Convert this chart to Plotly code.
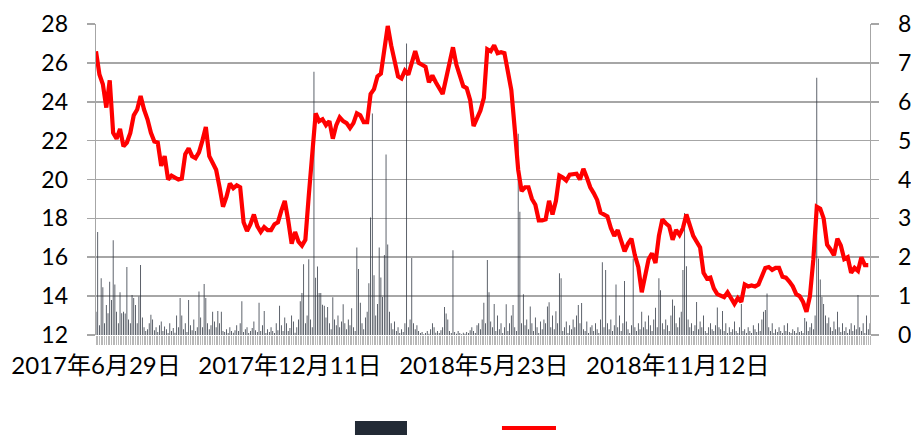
import plotly.graph_objects as go

# Daily volume (right axis, 0-8), one value per trading day
volume = [
    0.6, 2.65, 0.25, 1.46, 1.23, 0.3, 0.77, 0.56, 1.37, 0.9, 2.44, 1.3, 0.6, 0.3, 1.1, 0.56, 0.6, 0.55, 1.75, 0.4,
    0.3, 1.03, 0.95, 0.77, 0.3, 0.99, 1.8, 0.45, 0.2, 0.1, 0.15, 0.3, 0.52, 0.4, 0.12, 0.2, 0.08, 0.25, 0.35, 0.1,
    0.22, 0.15, 0.05, 0.3, 0.1, 0.18, 0.06, 0.5, 0.2, 0.95, 0.5, 0.15, 0.3, 0.08, 0.9, 0.25, 0.12, 0.4, 0.1, 0.2,
    1.12, 0.45, 0.2, 1.31, 0.95, 0.3, 0.15, 0.25, 0.6, 0.35, 0.2, 0.62, 0.3, 0.6, 0.1, 0.08, 0.15, 0.05, 0.2, 0.1,
    0.06, 0.12, 0.25, 0.1, 0.3, 0.87, 0.08, 0.15, 0.2, 0.05, 0.1, 0.18, 0.35, 0.12, 0.08, 0.83, 0.1, 0.25, 0.62, 0.05,
    0.15, 0.08, 0.2, 0.1, 0.05, 0.3, 0.12, 0.75, 0.25, 0.1, 0.45, 0.3, 0.1, 0.18, 0.5, 0.35, 0.06, 0.2, 0.4, 0.87,
    1.08, 1.82, 0.3, 0.5, 1.95, 0.4, 0.2, 6.77, 1.47, 1.76, 1.08, 1.08, 0.78, 0.75, 0.45, 0.72, 0.3, 0.15, 0.97, 0.4,
    0.25, 0.5, 0.2, 0.35, 0.79, 0.3, 0.15, 0.4, 0.25, 0.69, 0.2, 0.1, 2.25, 1.7, 0.83, 0.3, 0.15, 0.45, 0.6, 1.33,
    3.02, 5.7, 1.54, 0.5, 0.8, 2.25, 1.48, 0.98, 2.06, 4.64, 2.33, 0.6, 0.3, 0.15, 0.35, 0.1, 0.2, 0.05, 0.15, 0.08,
    0.3, 7.5, 0.2, 0.4, 1.98, 0.3, 0.15, 0.25, 0.1, 0.05, 0.08, 0.02, 0.05, 0.1, 0.03, 0.15, 0.3, 0.2, 0.06, 0.1,
    0.05, 0.12, 0.2, 0.72, 0.55, 0.4, 0.1, 0.05, 2.18, 0.08, 0.03, 0.1, 0.05, 0.02, 0.06, 0.03, 0.08, 0.05, 0.12, 0.2,
    0.1, 0.05, 0.25, 0.3, 0.15, 0.4, 0.83, 0.3, 1.93, 1.1, 0.35, 0.2, 0.8, 0.1, 0.5, 0.15, 0.3, 0.05, 0.2, 0.79,
    0.1, 0.3, 0.5, 0.77, 0.2, 0.1, 5.18, 3.17, 0.3, 1.05, 0.25, 0.4, 0.15, 0.73, 0.3, 0.1, 0.45, 0.2, 0.05, 0.35,
    0.15, 0.4, 0.3, 0.73, 0.84, 0.2, 0.5, 0.15, 0.61, 0.3, 1.59, 1.46, 0.1, 0.2, 0.35, 0.05, 0.25, 0.15, 0.4, 0.2,
    0.5, 0.77, 0.3, 0.82, 0.15, 0.1, 0.35, 0.05, 0.2, 0.25, 0.1, 0.3, 0.15, 0.05, 0.4, 1.87, 0.2, 1.67, 0.3, 0.15,
    0.4, 0.1, 0.25, 1.3, 0.2, 0.5, 0.1, 0.3, 1.39, 0.35, 0.15, 0.05, 0.25, 1.97, 0.2, 0.1, 0.3, 0.15, 0.6, 0.2,
    0.35, 0.15, 0.5, 0.25, 0.1, 0.4, 0.7, 0.2, 1.46, 1.15, 0.3, 0.15, 0.4, 0.25, 0.1, 0.5, 0.91, 0.75, 0.3, 0.2,
    0.45, 0.6, 1.67, 3.14, 1.77, 0.4, 0.2, 0.3, 0.1, 0.25, 0.85, 0.15, 0.35, 0.2, 0.5, 0.1, 0.05, 0.2, 0.3, 0.15,
    0.1, 0.25, 0.71, 0.2, 0.15, 0.62, 0.1, 0.3, 0.05, 0.2, 0.08, 0.15, 0.35, 0.1, 0.05, 0.2, 0.8, 0.1, 0.15, 0.05,
    0.2, 0.1, 0.05, 0.25, 0.15, 0.08, 0.3, 0.1, 0.4, 0.6, 0.64, 1.07, 0.2, 0.1, 0.3, 0.05, 0.15, 0.08, 0.2, 0.1,
    0.05, 0.25, 0.1, 0.3, 0.08, 0.05, 0.15, 0.1, 0.05, 0.2, 0.08, 0.1, 0.05, 0.44, 0.35, 0.1, 0.2, 0.3, 0.15, 0.5,
    6.62, 1.97, 1.43, 0.98, 0.8, 0.5, 0.3, 0.45, 0.2, 0.1, 0.35, 0.15, 0.6, 0.2, 0.08, 0.3, 0.1, 0.2, 0.05, 0.15,
    0.3, 0.1, 0.25, 0.15, 1.03, 0.2, 0.1, 0.3, 0.05, 0.5, 0.15, 0.3,
]

# Price (left axis, 12-28), read every second trading day
price = [
    26.6, 25.4, 24.9, 23.7, 25.1, 22.4, 22.1, 22.6, 21.7, 21.9,
    22.4, 23.3, 23.6, 24.3, 23.6, 23.1, 22.4, 21.95, 21.9, 20.7,
    21.2, 20.0, 20.2, 20.1, 20.0, 20.05, 21.3, 21.6, 21.2, 21.1,
    21.4, 22.0, 22.7, 21.2, 20.8, 20.5, 19.6, 18.6, 19.1, 19.8,
    19.55, 19.7, 19.6, 17.8, 17.35, 17.7, 18.2, 17.6, 17.3, 17.55,
    17.4, 17.4, 17.7, 17.8, 18.4, 18.9, 17.9, 16.7, 17.3, 16.8,
    16.6, 16.9, 19.2, 21.5, 23.4, 23.0, 23.1, 22.8, 23.0, 22.1,
    22.8, 23.2, 23.0, 22.9, 22.65, 22.9, 23.4, 23.3, 22.95, 22.95,
    24.4, 24.65, 25.3, 25.45, 26.6, 27.9, 26.9, 26.0, 25.3, 25.2,
    25.6, 25.4, 26.1, 26.6, 26.0, 25.9, 25.8, 25.0, 25.35, 25.0,
    24.65, 24.4, 25.2, 26.1, 26.8, 25.9, 25.4, 24.8, 24.7, 24.1,
    22.75, 23.2, 23.55, 24.2, 26.7, 26.6, 26.9, 26.5, 26.55, 26.5,
    25.6, 24.6, 22.6, 20.5, 19.4, 19.6, 19.6, 19.0, 18.7, 17.9,
    17.9, 17.95, 18.9, 18.2, 18.9, 20.2, 20.1, 19.95, 20.25, 20.25,
    20.3, 20.0, 20.55, 20.1, 19.6, 19.3, 18.95, 18.3, 18.2, 18.1,
    17.5, 17.1, 17.4, 16.85, 16.3, 16.7, 16.95, 16.1, 15.5, 14.2,
    15.0, 15.9, 16.2, 15.7, 17.1, 17.95, 17.75, 17.6, 16.9, 17.4,
    17.15, 17.5, 18.2, 17.6, 17.1, 16.8, 16.5, 15.2, 14.9, 14.95,
    14.4, 14.1, 14.05, 13.95, 14.2, 13.85, 13.6, 13.9, 13.7, 14.6,
    14.5, 14.55, 14.5, 14.6, 15.1, 15.45, 15.5, 15.35, 15.45, 15.45,
    15.0, 14.95, 14.75, 14.5, 14.1, 14.0, 13.7, 13.2, 14.0, 15.9,
    18.6, 18.5, 18.0, 16.65, 16.4, 16.1, 16.95, 16.6, 15.9, 16.0,
    15.2, 15.45, 15.3, 16.0, 15.6, 15.6,
]

tick_days = [0, 113, 226, 339]
tick_labels = ["2017年6月29日", "2017年12月11日", "2018年5月23日", "2018年11月12日"]
price_ticks = [12, 14, 16, 18, 20, 22, 24, 26, 28]
volume_ticks = [0, 1, 2, 3, 4, 5, 6, 7, 8]

days = list(range(len(volume)))
price_days = days[::2][:len(price)]

GRID = "#a6a6a6"
num_font = dict(family="Lato, 'Noto Sans CJK SC', sans-serif", size=23, color="#000000")

fig = go.Figure()
fig.add_trace(go.Bar(
    x=days, y=volume, xaxis="x", yaxis="y",
    marker=dict(color="#2e3540", line=dict(width=0)),
    showlegend=False, hoverinfo="skip",
))
fig.add_trace(go.Scatter(
    x=price_days, y=price, xaxis="x2", yaxis="y2", mode="lines",
    line=dict(color="#ff0000", width=4.2),
    showlegend=False, hoverinfo="skip",
))

xr = [0, len(volume) - 1]
fig.update_layout(
    width=911, height=435,
    margin=dict(l=96, r=41, t=24, b=100, autoexpand=False),
    paper_bgcolor="white", plot_bgcolor="white",
    bargap=0.55,
    hovermode=False,
    xaxis=dict(
        range=xr, tickmode="linear", tick0=0, dtick=1, automargin=False,
        ticks="outside", ticklen=9, tickwidth=1, tickcolor="#b8b8b8",
        showticklabels=False, showgrid=False, zeroline=False, showline=False,
    ),
    xaxis2=dict(
        overlaying="x", anchor="y2", side="bottom", range=xr, automargin=False,
        tickmode="array", tickvals=tick_days, ticktext=tick_labels,
        ticks="", showgrid=False, zeroline=False, showline=False,
        tickfont=dict(family="Lato, 'Noto Sans CJK SC', sans-serif", size=24, color="#000000"),
        ticklabelstandoff=14,
    ),
    yaxis=dict(
        side="right", range=[0, 8], tickmode="array", tickvals=volume_ticks, automargin=False,
        ticks="outside", ticklen=8, tickcolor=GRID, tickwidth=1.6,
        showgrid=True, gridcolor=GRID, gridwidth=1.6,
        showline=True, linecolor=GRID, linewidth=1.4, zeroline=False,
        tickfont=num_font, ticklabelstandoff=14,
    ),
    yaxis2=dict(
        overlaying="y", anchor="x2", side="left", range=[12, 28], automargin=False,
        tickmode="array", tickvals=price_ticks,
        ticks="outside", ticklen=8, tickcolor=GRID, tickwidth=1.6,
        showgrid=False, showline=True, linecolor=GRID, linewidth=1.4, zeroline=False,
        tickfont=num_font, ticklabelstandoff=14,
    ),
    shapes=[
        dict(type="rect", xref="paper", yref="paper",
             x0=0.3346, x1=0.4018, y0=-0.3215, y1=-0.2765,
             fillcolor="#222A35", line=dict(width=0)),
        dict(type="line", xref="paper", yref="paper",
             x0=0.5245, x1=0.5943, y0=-0.299, y1=-0.299,
             line=dict(color="#ff0000", width=4)),
    ],
)

fig.write_html(
    "out.html",
    config={"displayModeBar": False, "staticPlot": True},
    post_script="document.body.style.margin='0px';document.body.style.overflow='hidden';",
)
